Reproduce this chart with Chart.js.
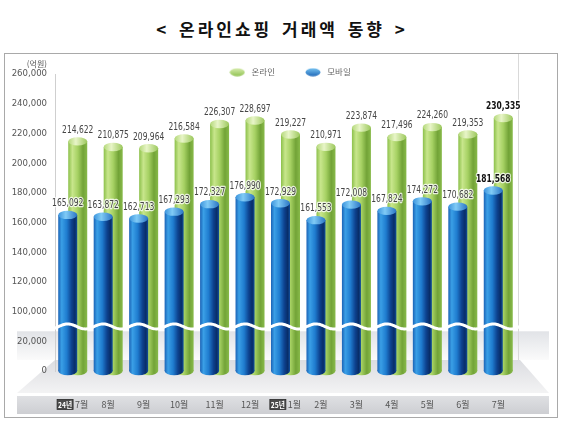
<!DOCTYPE html>
<html lang="ko">
<head>
<meta charset="utf-8">
<title>온라인쇼핑 거래액 동향</title>
<script src="https://cdn.jsdelivr.net/npm/chart.js@4.4.1/dist/chart.umd.min.js"></script>
<style>
  html, body { margin: 0; padding: 0; background: #fff; }
  body { width: 564px; height: 429px; position: relative; overflow: hidden; }
  #title {
    position: absolute; left: 0; top: 16px; width: 564px;
    text-align: center; color: #111;
    font-family: 'Noto Sans CJK KR', sans-serif; font-weight: 700;
    font-size: 17px; letter-spacing: 3px; word-spacing: 2px; line-height: 26px;
  }
  #frame { position: absolute; left: 4px; top: 53px; width: 552px; height: 363px; border: 1px solid #a9a9a9; }
  #chart { display: block; }
</style>
</head>
<body>
<div id="title">&lt; 온라인쇼핑 거래액 동향 &gt;</div>
<div id="frame"><canvas id="chart" width="552" height="363"></canvas></div>
<script>
// data (억원)
const categories   = ['7월', '8월', '9월', '10월', '11월', '12월', '1월', '2월', '3월', '4월', '5월', '6월', '7월'];
const yearTags     = ['24년', '', '', '', '', '', '25년', '', '', '', '', '', ''];
const onlineValues = [214622, 210875, 209964, 216584, 226307, 228697, 219227, 210971, 223874, 217496, 224260, 219353, 230335];
const mobileValues = [165092, 163872, 162713, 167293, 172327, 176990, 172929, 161553, 172008, 167824, 174272, 170682, 181568];
const yTickValues  = [0, 20000, 100000, 120000, 140000, 160000, 180000, 200000, 220000, 240000, 260000];

// the axis is cut between these two values, the gap takes one tick step
const BREAK_LOW  = 20000;
const BREAK_HIGH = 100000;
const BREAK_STEP = 20000;

const NUM_FONT = "'Liberation Sans Narrow', 'DejaVu Sans Condensed', Roboto, sans-serif";
const KR_FONT  = "'Noto Sans CJK KR', sans-serif";
const BAR_W    = 19;
const YEAR_PAD = '\u2002\u2002\u2002\u2002';
const LABEL_SQUEEZE = 0.8;

var squash = function(v) {
    if (v <= BREAK_LOW) return v;
    if (v >= BREAK_HIGH) return v - (BREAK_HIGH - BREAK_LOW) + BREAK_STEP;
    return BREAK_LOW + (v - BREAK_LOW) / (BREAK_HIGH - BREAK_LOW) * BREAK_STEP;
};

var unsquash = function(s) {
    if (s <= BREAK_LOW) return s;
    if (s >= BREAK_LOW + BREAK_STEP) return s + (BREAK_HIGH - BREAK_LOW) - BREAK_STEP;
    return BREAK_LOW + (s - BREAK_LOW) / BREAK_STEP * (BREAK_HIGH - BREAK_LOW);
};

// linear scale with a broken section
class BrokenLinearScale extends Chart.LinearScale {
    static id = 'brokenLinear';
    static defaults = {};

    buildTicks() {
        this.start = this.min;
        this.end = this.max;
        return yTickValues.map(function(value) { return { value: value }; });
    }

    getPixelForValue(value) {
        if (value === null || value === undefined || isNaN(value)) return NaN;
        var lo = squash(this.min), hi = squash(this.max);
        return this.getPixelForDecimal((squash(value) - lo) / (hi - lo));
    }

    getValueForPixel(pixel) {
        var lo = squash(this.min), hi = squash(this.max);
        return unsquash(lo + this.getDecimalForPixel(pixel) * (hi - lo));
    }
}
Chart.register(BrokenLinearScale);

// colours
var blueStops  = [[0, '#1b63b6'], [0.18, '#3a9fe6'], [0.45, '#1f7ccf'], [0.7, '#0d428f'], [0.88, '#082d68'], [1, '#12509c']];
var greenStops = [[0, '#8cc04b'], [0.22, '#c8e68c'], [0.5, '#a6d163'], [0.78, '#72a337'], [1, '#88ba4a']];
var blueCap    = [[0, '#3b93dc'], [0.4, '#80cbf6'], [1, '#2a74c4']];
var greenCap   = [[0, '#b4d87a'], [0.4, '#e8f5c8'], [1, '#9cc85c']];

var hGradient = function(ctx, x0, x1, stops) {
    var g = ctx.createLinearGradient(x0, 0, x1, 0);
    stops.forEach(function(s) { g.addColorStop(s[0], s[1]); });
    return g;
};

var barFill = function(stops) {
    return function(c) {
        var xs = c.chart.scales.x;
        if (!xs || c.dataIndex === undefined) return stops[1][1];
        var cx = xs.getPixelForValue(c.dataIndex);
        if (!isFinite(cx)) return stops[1][1];
        return hGradient(c.chart.ctx, cx - BAR_W / 2, cx + BAR_W / 2, stops);
    };
};

var makePill = function(top, bottom) {
    var cv = document.createElement('canvas');
    cv.width = 16; cv.height = 9;
    var g = cv.getContext('2d');
    var grad = g.createLinearGradient(0, 0, 0, 9);
    grad.addColorStop(0, top);
    grad.addColorStop(1, bottom);
    g.fillStyle = grad;
    g.beginPath();
    g.ellipse(8, 4.5, 7.5, 4, 0, 0, Math.PI * 2);
    g.fill();
    return cv;
};
var pills = [makePill('#7cc8f4', '#1a62b5'), makePill('#dcefb4', '#8cc04c')];

var ellipse = function(ctx, x, y, rx, ry) {
    ctx.beginPath();
    ctx.ellipse(x, y, rx, ry, 0, 0, Math.PI * 2);
};

// legend sits inside the plot band, not above it
const LEGEND_BAND = 20;
const LEGEND_DX = 26;
const LEGEND_DY = -14;

var legendPlacement = {
    id: 'legendPlacement',
    beforeInit: function(chart) {
        var lg = chart.legend;
        if (!lg) return;
        var fit = lg.fit;
        lg.fit = function() { fit.call(this); this.height = LEGEND_BAND; };
        var draw = lg.draw;
        lg.draw = function() {
            var saved = [this.left, this.right, this.top, this.bottom];
            this.left += LEGEND_DX;
            this.right += LEGEND_DX;
            this.top += LEGEND_DY;
            this.bottom = this.top + 60;
            draw.call(this);
            this.left = saved[0]; this.right = saved[1]; this.top = saved[2]; this.bottom = saved[3];
        };
    }
};

// wall, floor and label band behind the bars
var scenery = {
    id: 'scenery',
    beforeDraw: function(chart) {
        var ctx = chart.ctx, a = chart.chartArea, y = chart.scales.y, W = chart.width;
        var panelTop = y.getPixelForValue(BREAK_LOW) - 10;
        var floorBack = a.bottom - 11, floorFront = a.bottom + 22;

        ctx.save();
        var g = ctx.createLinearGradient(0, panelTop, 0, floorBack);
        g.addColorStop(0, '#e1e3e7');
        g.addColorStop(1, '#fbfbfb');
        ctx.fillStyle = g;
        ctx.fillRect(12, panelTop, W - 20, floorBack - panelTop);

        g = ctx.createLinearGradient(0, floorBack, 0, floorFront);
        g.addColorStop(0, '#dcdde1');
        g.addColorStop(1, '#f3f3f4');
        ctx.fillStyle = g;
        ctx.beginPath();
        ctx.moveTo(a.left, floorBack);
        ctx.lineTo(a.right + 4, floorBack);
        ctx.lineTo(W - 8, floorFront);
        ctx.lineTo(12, floorFront);
        ctx.closePath();
        ctx.fill();

        g = ctx.createLinearGradient(0, a.bottom + 25, 0, a.bottom + 43);
        g.addColorStop(0, '#dfe0e3');
        g.addColorStop(1, '#cdced2');
        ctx.fillStyle = g;
        ctx.fillRect(12, a.bottom + 25, W - 20, 18);

        ctx.strokeStyle = '#d9d9d9';
        ctx.lineWidth = 1;
        ctx.beginPath();
        ctx.moveTo(a.right + 2.5, 0);
        ctx.lineTo(a.right + 2.5, floorBack);
        ctx.stroke();
        ctx.restore();
    },

    beforeDatasetDraw: function(chart, args) {
        var ds = chart.data.datasets[args.index];
        chart.ctx.save();
        chart.ctx.translate(ds.xShift || 0, 0);
    },

    afterDatasetDraw: function(chart, args) {
        var ctx = chart.ctx;
        var ds = chart.data.datasets[args.index];
        args.meta.data.forEach(function(el) {
            var p = el.getProps(['x', 'y', 'base', 'width'], true);
            var rx = p.width / 2, ry = p.width * 0.22;
            ctx.fillStyle = el.options.backgroundColor;
            ellipse(ctx, p.x, p.base, rx, ry);
            ctx.fill();
            ctx.fillStyle = hGradient(ctx, p.x - rx, p.x + rx, ds.capStops);
            ellipse(ctx, p.x, p.y, rx, ry);
            ctx.fill();
        });
        ctx.restore();
    },

    afterDatasetsDraw: function(chart) {
        var ctx = chart.ctx, a = chart.chartArea, xs = chart.scales.x, y = chart.scales.y;

        // break mark
        var yb = y.getPixelForValue((BREAK_LOW + BREAK_HIGH) / 2);
        var x0 = xs.getPixelForValue(0) - 5;
        var step = xs.getPixelForValue(1) - xs.getPixelForValue(0);
        ctx.save();
        ctx.strokeStyle = '#ffffff';
        ctx.lineWidth = 3;
        ctx.beginPath();
        for (var x = a.left - 4; x <= a.right + 8; x++) {
            var wy = yb - 2.5 * Math.cos(2 * Math.PI * (x - x0) / step);
            if (x === a.left - 4) ctx.moveTo(x, wy); else ctx.lineTo(x, wy);
        }
        ctx.stroke();

        // value labels, squeezed a little like the condensed face of the original
        ctx.textAlign = 'center';
        ctx.textBaseline = 'bottom';
        ctx.lineJoin = 'round';
        [1, 0].forEach(function(di) {
            var ds = chart.data.datasets[di];
            var meta = chart.getDatasetMeta(di);
            meta.data.forEach(function(el, i) {
                var last = i === meta.data.length - 1;
                var text = ds.data[i].toLocaleString('en-US');
                var tx = el.x + (ds.xShift || 0);
                var ty = el.y - el.width * 0.22 - 2;
                ctx.font = (last ? 'bold ' : '') + '10.5px ' + NUM_FONT;
                var w = ctx.measureText(text).width * LABEL_SQUEEZE;
                ctx.lineWidth = 2.5;
                ctx.strokeStyle = 'rgba(255,255,255,0.8)';
                ctx.strokeText(text, tx, ty, w);
                ctx.fillStyle = last ? '#111' : '#454545';
                ctx.fillText(text, tx, ty, w);
            });
        });

        // unit
        ctx.font = '8px ' + KR_FONT;
        ctx.textAlign = 'right';
        ctx.textBaseline = 'middle';
        ctx.fillStyle = '#555';
        ctx.fillText('(억원)', a.left - 8, a.top - 10);
        ctx.restore();
    },

    // year badges in front of the month labels
    afterDraw: function(chart) {
        var ctx = chart.ctx, xs = chart.scales.x;
        var items = xs.getLabelItems();
        ctx.save();
        items.forEach(function(item, i) {
            var tag = yearTags[i];
            if (!tag) return;
            var tx = item.options.translation[0], ty = item.options.translation[1];
            ctx.font = item.font.string;
            var full = ctx.measureText(item.label).width;
            var padW = ctx.measureText(YEAR_PAD).width;
            var left = tx - full / 2;
            var cy = item.options.textBaseline === 'middle'
                ? ty + item.textOffset
                : ty + item.textOffset + item.font.size * 0.6;
            ctx.fillStyle = '#4b4b4b';
            ctx.fillRect(left, cy - 5, padW - 2, 10);
            ctx.strokeStyle = '#2a2a2a';
            ctx.lineWidth = 0.8;
            ctx.strokeRect(left, cy - 5, padW - 2, 10);
            ctx.font = 'bold 7.5px ' + KR_FONT;
            ctx.fillStyle = '#ffffff';
            ctx.textAlign = 'center';
            ctx.textBaseline = 'middle';
            ctx.fillText(tag, left + (padW - 2) / 2, cy + 0.5, padW - 4);
        });
        ctx.restore();
    }
};

new Chart(document.getElementById('chart'), {
    type: 'bar',
    data: {
        labels: categories,
        datasets: [
            {
                label: '모바일',
                data: mobileValues,
                backgroundColor: barFill(blueStops),
                capStops: blueCap,
                xShift: -5
            }, {
                label: '온라인',
                data: onlineValues,
                backgroundColor: barFill(greenStops),
                capStops: greenCap,
                xShift: 5
            }
        ]
    },
    options: {
        responsive: false,
        animation: false,
        events: [],
        datasets: {
            bar: { grouped: false, maxBarThickness: BAR_W, borderWidth: 0 }
        },
        layout: { padding: { top: 0, left: 5, right: 41, bottom: 0 } },
        plugins: {
            title: { display: false },
            tooltip: { enabled: false },
            legend: {
                display: true,
                position: 'top',
                reverse: true,
                labels: {
                    usePointStyle: true,
                    pointStyleWidth: 20,
                    padding: 28,
                    color: '#666',
                    font: { family: KR_FONT, size: 8.5 },
                    generateLabels: function(chart) {
                        var items = Chart.defaults.plugins.legend.labels.generateLabels(chart);
                        items.forEach(function(it) { it.pointStyle = pills[it.datasetIndex]; });
                        return items;
                    }
                }
            }
        },
        scales: {
            x: {
                type: 'category',
                grid: { display: false, drawTicks: false },
                border: { display: false },
                ticks: {
                    padding: 28,
                    autoSkip: false,
                    maxRotation: 0,
                    color: '#555',
                    font: { family: KR_FONT, size: 9 },
                    callback: function(value, index) {
                        return (yearTags[index] ? YEAR_PAD : '') + categories[index];
                    }
                },
                afterFit: function(scale) { scale.height = 46; }
            },
            y: {
                type: 'brokenLinear',
                min: 0,
                max: 260000,
                grid: { display: false, drawTicks: false },
                border: { display: true, color: '#cfcfcf' },
                ticks: {
                    padding: 8,
                    autoSkip: false,
                    color: '#555',
                    font: { family: NUM_FONT, size: 9.5 },
                    callback: function(v) { return v.toLocaleString('en-US'); }
                },
                afterFit: function(scale) { scale.width = 45; }
            }
        }
    },
    plugins: [legendPlacement, scenery]
});
</script>
</body>
</html>
